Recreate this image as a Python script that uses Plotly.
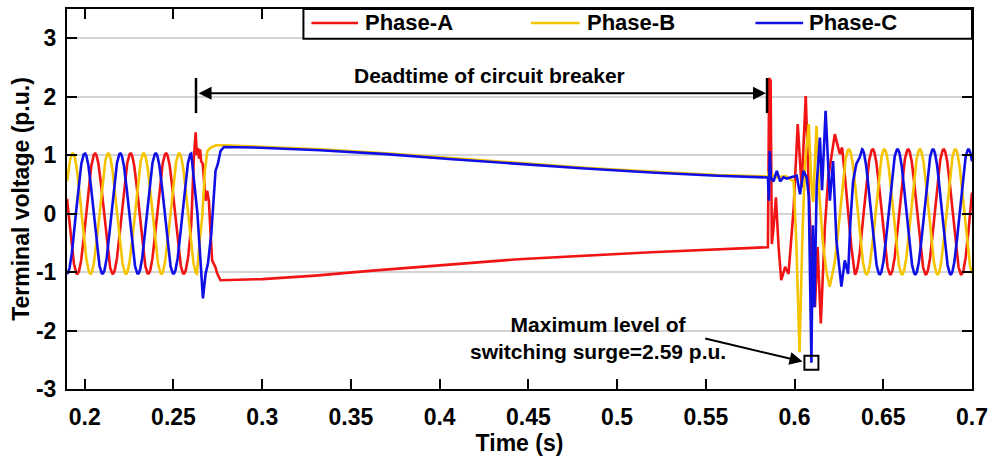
import numpy as np
import plotly.graph_objects as go

# ---------------- data ----------------
FREQ_HZ = 50.0
T_START, T_END = 0.19, 0.70

# steady-state sinusoid parameters (amplitude, offset, time of a peak)
PRE_AMP, PRE_OFFSET = 1.03, 0.0
POST_AMP, POST_OFFSET = 1.07, 0.03
pre_peak = {"A": 0.2058, "B": 0.1932, "C": 0.2000}
post_peak = {"A": 0.6440, "B": 0.6306, "C": 0.6380}
pre_end = {"A": 0.2585, "B": 0.2632, "C": 0.2600}
post_start = {"A": 0.6340, "B": 0.6210, "C": 0.6380}

# transient / dead-time samples (time s, voltage p.u.)
phaseA_t = [0.2600, 0.2614, 0.2625, 0.2632, 0.2638, 0.2644, 0.2650, 0.2656, 0.2665, 0.2681,
            0.2690, 0.2700, 0.2709, 0.2718, 0.2737, 0.2746, 0.2765, 0.3000, 0.3300, 0.3605,
            0.4445, 0.5192, 0.5850, 0.5857, 0.5865, 0.5872, 0.5882, 0.5895, 0.5910, 0.5925,
            0.5947, 0.5966, 0.5994, 0.6018, 0.6040, 0.6063, 0.6081, 0.6096, 0.6115, 0.6130,
            0.6148, 0.6171, 0.6190, 0.6227, 0.6255, 0.6268, 0.6285, 0.6301, 0.6320]
phaseA_v = [-0.20, 0.90, 1.39, 1.00, 1.12, 0.94, 1.10, 0.90, 0.85, 0.22,
            0.39, 0.20, -0.34, -0.80, -0.92, -1.02, -1.14, -1.12, -1.06, -0.98,
            -0.78, -0.66, -0.575, 2.32, 2.27, -0.52, -0.23, 0.28, -0.57, -1.14,
            -0.91, -1.03, 0.05, 1.53, 0.45, 2.01, 0.33, -0.80, -1.60, -0.57,
            -1.88, -0.23, 0.62, 1.36, 1.02, 1.13, 0.60, 0.05, -0.57]

phaseB_t = [0.2650, 0.2662, 0.2677, 0.2691, 0.2710, 0.2740, 0.2784, 0.2952, 0.3325, 0.3698,
            0.4072, 0.4445, 0.4819, 0.5192, 0.5565, 0.5850, 0.5857, 0.5865, 0.5880, 0.5900,
            0.5950, 0.5995, 0.6010, 0.6028, 0.6045, 0.6060, 0.6080, 0.6095, 0.6105, 0.6124,
            0.6140, 0.6160, 0.6180, 0.6198]
phaseB_v = [-0.40, -0.06, 0.73, 1.07, 1.13, 1.17, 1.17, 1.145, 1.10, 1.03,
            0.945, 0.86, 0.785, 0.72, 0.66, 0.635, 0.75, 0.58, 0.66, 0.62,
            0.64, 0.55, -0.50, -2.37, -0.30, 0.90, 1.53, 0.50, 0.20, 1.50,
            0.30, -0.50, -1.00, -1.25]

phaseC_t = [0.2635, 0.2653, 0.2666, 0.2681, 0.2694, 0.2713, 0.2728, 0.2737, 0.2750, 0.2765,
            0.2784, 0.2952, 0.3325, 0.3698, 0.4072, 0.4445, 0.4819, 0.5192, 0.5565, 0.5850,
            0.5855, 0.5860, 0.5867, 0.5882, 0.5900, 0.5919, 0.5937, 0.5956, 0.5984, 0.6012,
            0.6031, 0.6050, 0.6068, 0.6080, 0.6095, 0.6103, 0.6112, 0.6125, 0.6143, 0.6155,
            0.6175, 0.6199, 0.6217, 0.6236, 0.6264, 0.6283, 0.6302, 0.6315, 0.6330, 0.6348,
            0.6367]
phaseC_v = [0.00, -0.91, -1.45, -1.03, -0.86, -0.35, 0.45, 0.73, 0.85, 1.07,
            1.14, 1.13, 1.085, 1.017, 0.93, 0.847, 0.772, 0.704, 0.647, 0.618,
            0.22, 1.07, 0.62, 0.55, 0.73, 0.55, 0.62, 0.60, 0.62, 0.65,
            0.33, 0.73, 0.62, 0.30, -2.55, -0.20, -1.60, 0.50, 1.30, 0.40,
            1.76, 0.22, 0.90, -0.46, -1.25, -0.80, -1.03, -0.12, 0.55, 0.85,
            0.96]

series_names = ["Phase-A", "Phase-B", "Phase-C"]
series_colors = ["#f01414", "#f5c400", "#1010e6"]

x_tickvals = [0.2, 0.25, 0.3, 0.35, 0.4, 0.45, 0.5, 0.55, 0.6, 0.65, 0.7]
x_ticktext = ["0.2", "0.25", "0.3", "0.35", "0.4", "0.45", "0.5", "0.55", "0.6", "0.65", "0.7"]
y_tickvals = [-3, -2, -1, 0, 1, 2, 3]
y_ticktext = ["-3", "-2", "-1", "0", "1", "2", "3"]

DEADTIME_START, DEADTIME_END = 0.2627, 0.5845
SURGE_LABEL = "Maximum level of<br>switching surge=2.59 p.u."


# ---------------- build waveforms ----------------
def steady(t0, t1, amp, off, tpk):
    t = np.append(np.arange(t0, t1, 0.0001), t1)
    return t, amp * np.cos(2 * np.pi * FREQ_HZ * (t - tpk)) + off


def phase_wave(key, tt, vv):
    t1, v1 = steady(T_START, pre_end[key], PRE_AMP, PRE_OFFSET, pre_peak[key])
    t3, v3 = steady(post_start[key], T_END, POST_AMP, POST_OFFSET, post_peak[key])
    return (np.concatenate([t1, np.array(tt), t3]),
            np.concatenate([v1, np.array(vv), v3]))


waves = [phase_wave("A", phaseA_t, phaseA_v),
         phase_wave("B", phaseB_t, phaseB_v),
         phase_wave("C", phaseC_t, phaseC_v)]

FONT = "Arial, Liberation Sans, sans-serif"

fig = go.Figure()
for (t, v), name, col in zip(waves, series_names, series_colors):
    fig.add_trace(go.Scatter(x=t, y=v, mode="lines", name=name,
                             line=dict(color=col, width=2.6), showlegend=False))

# maximum surge marker on phase C
tc, vc = waves[2]
imin = int(np.argmin(vc))
fig.add_trace(go.Scatter(x=[tc[imin]], y=[vc[imin]], mode="markers", showlegend=False,
                         marker=dict(symbol="square-open", size=14,
                                     color="black", line=dict(color="black", width=2))))

# ---------------- layout ----------------
L, R, T, B = 67, 17, 7, 67
W, H = 995, 456
PW, PH = W - L - R, H - T - B


def px_x(px):
    return (px - L) / PW


def px_y(py):
    return (H - B - py) / PH


shapes = []
annotations = []

# dead-time bars
for tx in (DEADTIME_START, DEADTIME_END):
    shapes.append(dict(type="line", xref="x", yref="y", x0=tx, x1=tx, y0=1.72, y1=2.32,
                       line=dict(color="black", width=2.5)))
annotations.append(dict(x=DEADTIME_END - 0.0006, y=2.06, ax=DEADTIME_START + 0.0006, ay=2.06,
                        xref="x", yref="y", axref="x", ayref="y", text="",
                        showarrow=True, arrowhead=2, arrowside="end+start",
                        arrowsize=1.3, arrowwidth=2, arrowcolor="black"))
annotations.append(dict(x=0.4279, y=2.37, xref="x", yref="y", text="<b>Deadtime of circuit breaker</b>",
                        showarrow=False, font=dict(family=FONT, size=21, color="black")))

# surge annotation
annotations.append(dict(x=0.4894, y=-2.12, xref="x", yref="y", text="<b>" + SURGE_LABEL.replace("<br>", "</b><br><b>") + "</b>",
                        showarrow=False, align="center",
                        font=dict(family=FONT, size=21, color="black")))
annotations.append(dict(x=0.6045, y=-2.53, ax=0.5488, ay=-2.13, xref="x", yref="y",
                        axref="x", ayref="y", text="", showarrow=True, arrowhead=2,
                        arrowsize=1.3, arrowwidth=2, arrowcolor="black"))

# custom legend
shapes.append(dict(type="rect", xref="paper", yref="paper", x0=px_x(305), x1=1.0,
                   y0=px_y(37), y1=1.0, line=dict(color="black", width=2),
                   fillcolor="white", layer="above"))
leg_line = [(313, 360), (534, 583), (760, 808)]
leg_text = [365, 588, 812]
for (a, b), tx, name, col in zip(leg_line, leg_text, series_names, series_colors):
    shapes.append(dict(type="line", xref="paper", yref="paper", x0=px_x(a), x1=px_x(b),
                       y0=px_y(21), y1=px_y(21), line=dict(color=col, width=2.6), layer="above"))
    annotations.append(dict(x=px_x(tx), y=px_y(21), xref="paper", yref="paper",
                            xanchor="left", yanchor="middle", text="<b>" + name + "</b>",
                            showarrow=False, font=dict(family=FONT, size=22, color="black")))

axis_common = dict(showline=True, linecolor="black", linewidth=2, mirror="ticks",
                   ticks="inside", ticklen=10, tickwidth=2, tickcolor="black",
                   tickfont=dict(family=FONT, size=23, color="black", weight="bold"),
                   zeroline=False)

fig.update_layout(
    width=W, height=H,
    margin=dict(l=L, r=R, t=T, b=B, pad=0),
    paper_bgcolor="white", plot_bgcolor="white",
    shapes=shapes, annotations=annotations,
    xaxis=dict(range=[T_START, T_END], tickvals=x_tickvals, ticktext=x_ticktext,
               showgrid=False, ticklabelstandoff=6,
               title=dict(text="<b>Time (s)</b>", font=dict(family=FONT, size=23, color="black"),
                          standoff=0),
               **axis_common),
    yaxis=dict(range=[-3, 3.5], tickvals=y_tickvals, ticktext=y_ticktext,
               showgrid=True, gridcolor="#d4d4d4", gridwidth=1.5,
               ticklabelstandoff=4,
               title=dict(text="<b>Terminal voltage (p.u.)</b>",
                          font=dict(family=FONT, size=23, color="black"), standoff=0),
               **axis_common),
)

fig.write_html("out.html")
